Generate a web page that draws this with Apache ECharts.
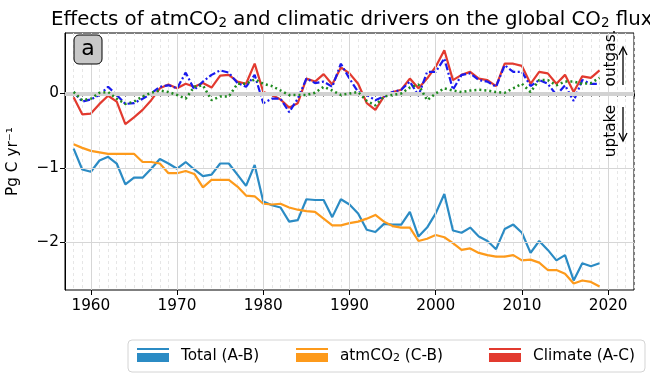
<!DOCTYPE html>
<html>
<head>
<meta charset="utf-8">
<script src="https://cdn.jsdelivr.net/npm/echarts@6/dist/echarts.min.js"></script>
<style>html,body{margin:0;padding:0;background:#fff}#c{width:650px;height:380px}</style>
</head>
<body>
<div id="c"></div>
<script>
const years = [1958,1959,1960,1961,1962,1963,1964,1965,1966,1967,1968,1969,1970,1971,1972,1973,1974,1975,1976,1977,1978,1979,1980,1981,1982,1983,1984,1985,1986,1987,1988,1989,1990,1991,1992,1993,1994,1995,1996,1997,1998,1999,2000,2001,2002,2003,2004,2005,2006,2007,2008,2009,2010,2011,2012,2013,2014,2015,2016,2017,2018,2019];
const totalAB = [-0.74,-1.02,-1.05,-0.90,-0.85,-0.94,-1.22,-1.13,-1.13,-1.01,-0.88,-0.94,-1.01,-0.92,-1.02,-1.11,-1.09,-0.94,-0.94,-1.09,-1.24,-0.96,-1.45,-1.50,-1.53,-1.72,-1.70,-1.42,-1.43,-1.43,-1.66,-1.42,-1.49,-1.61,-1.83,-1.86,-1.75,-1.76,-1.76,-1.59,-1.92,-1.80,-1.61,-1.35,-1.84,-1.87,-1.80,-1.92,-1.98,-2.09,-1.82,-1.76,-1.87,-2.14,-1.98,-2.10,-2.24,-2.17,-2.51,-2.28,-2.32,-2.28];
const atmCO2CB = [-0.68,-0.73,-0.77,-0.79,-0.81,-0.81,-0.81,-0.81,-0.92,-0.92,-0.94,-1.07,-1.07,-1.04,-1.08,-1.26,-1.16,-1.16,-1.16,-1.25,-1.37,-1.38,-1.48,-1.49,-1.48,-1.53,-1.56,-1.58,-1.59,-1.68,-1.77,-1.77,-1.74,-1.72,-1.68,-1.63,-1.72,-1.78,-1.80,-1.80,-1.98,-1.95,-1.90,-1.93,-2.01,-2.10,-2.08,-2.14,-2.17,-2.19,-2.19,-2.17,-2.24,-2.23,-2.27,-2.37,-2.37,-2.42,-2.55,-2.51,-2.53,-2.59];
const climateAC = [-0.05,-0.28,-0.27,-0.14,-0.03,-0.11,-0.41,-0.32,-0.22,-0.09,0.07,0.12,0.07,0.13,0.09,0.14,0.08,0.24,0.25,0.16,0.13,0.40,0.02,-0.02,-0.08,-0.19,-0.13,0.20,0.16,0.26,0.12,0.35,0.27,0.13,-0.13,-0.22,-0.04,0.02,0.05,0.20,0.07,0.20,0.36,0.58,0.18,0.25,0.29,0.20,0.18,0.10,0.40,0.40,0.37,0.13,0.29,0.27,0.13,0.25,0.02,0.23,0.21,0.31];
const climateDashDot = [0.02,-0.11,-0.08,-0.02,0.09,-0.02,-0.14,-0.13,-0.07,0.00,0.09,0.11,0.07,0.28,0.05,0.16,0.25,0.31,0.28,0.14,0.09,0.25,-0.13,-0.07,-0.07,-0.25,-0.07,0.20,0.14,0.16,0.09,0.40,0.20,0.02,-0.02,-0.09,-0.04,0.02,0.05,0.16,-0.03,0.29,0.29,0.47,0.05,0.25,0.27,0.18,0.16,0.09,0.38,0.29,0.29,0.10,0.18,0.13,-0.02,0.11,-0.10,0.18,0.13,0.13];
const climateDotted = [0.02,-0.09,-0.07,0.01,0.02,-0.07,-0.14,-0.11,-0.04,0.01,0.04,0.02,-0.02,-0.07,0.09,0.11,-0.09,-0.04,-0.04,0.13,0.13,0.19,0.13,0.10,0.04,-0.02,-0.02,-0.02,0.01,0.09,0.04,-0.02,0.00,0.02,-0.10,-0.16,-0.04,-0.02,0.00,0.08,0.12,-0.09,0.00,0.07,0.04,0.02,0.04,0.05,0.04,0.02,0.01,0.07,0.13,0.02,0.18,0.18,0.11,0.16,0.16,0.13,0.14,0.21];
const xTickLabels = [1960,1970,1980,1990,2000,2010,2020];
const yTickLabels = [-2,-1,0];
const legendNames = ['Total (A-B)','atmCO2 (C-B)','Climate (A-C)'];

const FONT = 'DejaVu Sans';
const pairs = arr => years.map((y,i)=>[y,arr[i]]);
const chart = echarts.init(document.getElementById('c'), null, {renderer:'canvas'});

const option = {
  animation:false,
  backgroundColor:'#fff',
  textStyle:{fontFamily:FONT},
  title:{
    text:'{n|Effects of atmCO}{s|2}{n| and climatic drivers on the global CO}{s|2}{n| flux}',
    left:46, top:1,
    textStyle:{fontWeight:'normal',rich:{
      n:{fontSize:19.8,fontFamily:FONT,fontWeight:'normal',color:'#000',verticalAlign:'bottom',lineHeight:24},
      s:{fontSize:13.5,fontFamily:FONT,fontWeight:'normal',color:'#000',verticalAlign:'bottom',lineHeight:18}
    }}
  },
  grid:{left:65,right:16,top:33,bottom:90,show:true,borderColor:'#000',borderWidth:1,backgroundColor:'#fff',outerBoundsMode:'none',containLabel:false},
  legend:{
    data:legendNames,
    left:128, top:340, width:540,
    padding:[8,10,8,9],
    itemGap:32,
    itemWidth:32, itemHeight:14,
    icon:'path://M0,0H32V2H0Z M0,5H32V14H0Z',
    borderColor:'#d4d4d4', borderWidth:1, borderRadius:4, backgroundColor:'#fff',
    formatter: n => n==='atmCO2 (C-B)' ? '{n|atmCO}{s|2}{a| (C-B)}' : (n==='Total (A-B)' ? '{t|'+n+'}' : '{c|'+n+'}'),
    textStyle:{padding:[0,0,0,7],rich:{
      t:{fontSize:15.3,fontFamily:FONT,color:'#000',verticalAlign:'bottom',lineHeight:18,width:83},
      n:{fontSize:15.3,fontFamily:FONT,color:'#000',verticalAlign:'bottom',lineHeight:18},
      a:{fontSize:15.3,fontFamily:FONT,color:'#000',verticalAlign:'bottom',lineHeight:18,width:57},
      c:{fontSize:15.3,fontFamily:FONT,color:'#000',verticalAlign:'bottom',lineHeight:18,width:102},
      s:{fontSize:11,fontFamily:FONT,color:'#000',verticalAlign:'bottom',lineHeight:14}
    }}
  },
  xAxis:[{
    type:'value', min:1957, max:2023, interval:1,
    axisLine:{show:true,lineStyle:{color:'#000',width:1}},
    axisTick:{show:true,length:3,lineStyle:{color:'#000',width:1}},
    axisLabel:{show:true,margin:9,fontSize:15.3,fontFamily:FONT,color:'#000',
      formatter:v=> xTickLabels.indexOf(v)>=0 ? String(v) : ''},
    splitLine:{show:true,lineStyle:{color:'#e6e6e6',width:1,type:[3,3]}}
  },{
    type:'value', min:1957, max:2023, position:'bottom', gridIndex:0,
    axisLine:{show:false},
    axisTick:{show:true,length:5,customValues:xTickLabels,lineStyle:{color:'#000',width:1}},
    axisLabel:{show:false},
    splitLine:{show:false}
  }],
  yAxis:{
    type:'value', min:-2.638, max:0.812,
    name:'Pg C yr\u207B\u00B9', nameLocation:'middle', nameGap:44, nameRotate:90,
    nameTextStyle:{fontSize:15.3,fontFamily:FONT,color:'#000'},
    axisLine:{show:true,lineStyle:{color:'#000',width:1}},
    axisTick:{show:true,length:5,customValues:yTickLabels,lineStyle:{color:'#000',width:1}},
    axisLabel:{show:true,margin:6,fontSize:15.3,fontFamily:FONT,color:'#000',customValues:yTickLabels,
      formatter:v=> v<0 ? '\u2212'+Math.abs(v) : String(v)},
    splitLine:{show:false}
  },
  series:[
    {type:'line', name:'grid', data:[], z:1, silent:true,
     markLine:{silent:true, symbol:'none', label:{show:false}, animation:false,
      data:[
        ...xTickLabels.map(v=>({xAxis:v,lineStyle:{color:'#d6d6d6',width:1,type:'solid'}})),
        {yAxis:-1,lineStyle:{color:'#d6d6d6',width:1,type:'solid'}},
        {yAxis:-2,lineStyle:{color:'#d6d6d6',width:1,type:'solid'}},
        {yAxis:0,lineStyle:{color:'#d2d2d2',width:4,type:'solid'}}
      ]}},
    {type:'line', name:'Total (A-B)', data:pairs(totalAB), showSymbol:false, z:3,
     lineStyle:{color:'#2b8bc4',width:2.2}, itemStyle:{color:'#2b8bc4'}},
    {type:'line', name:'atmCO2 (C-B)', data:pairs(atmCO2CB), showSymbol:false, z:3,
     lineStyle:{color:'#fd9a1b',width:2.2}, itemStyle:{color:'#fd9a1b'}},
    {type:'line', name:'Climate (A-C)', data:pairs(climateAC), showSymbol:false, z:3,
     lineStyle:{color:'#e23a2f',width:2.2}, itemStyle:{color:'#e23a2f'}},
    {type:'line', name:'dashdot', data:pairs(climateDashDot), showSymbol:false, z:4,
     lineStyle:{color:'#1a1aee',width:2.2,type:[7,2.5,2,2.5]}, itemStyle:{color:'#1a1aee'}},
    {type:'line', name:'dotted', data:pairs(climateDotted), showSymbol:false, z:5,
     lineStyle:{color:'#1f8a1f',width:2.5,type:[2,3]}, itemStyle:{color:'#1f8a1f'}}
  ],
  graphic:[
    {type:'rect', z:10, shape:{x:74,y:35,width:28,height:29,r:5}, style:{fill:'#c8c8c8',stroke:'#000',lineWidth:1}},
    {type:'text', z:11, x:88, y:49.5, style:{text:'a',fontSize:22,fontFamily:FONT,fill:'#000',align:'center',verticalAlign:'middle'}},
    {type:'text', z:11, x:611, y:58, rotation:Math.PI/2, style:{text:'outgas.',fontSize:15.3,fontFamily:FONT,fill:'#000',align:'center',verticalAlign:'middle'}},
    {type:'text', z:11, x:611, y:131, rotation:Math.PI/2, style:{text:'uptake',fontSize:15.3,fontFamily:FONT,fill:'#000',align:'center',verticalAlign:'middle'}},
    {type:'polyline', z:11, shape:{points:[[623,85],[623,48]]}, style:{stroke:'#000',lineWidth:1.3,fill:null}},
    {type:'polyline', z:11, shape:{points:[[619,55],[623,47],[627,55]]}, style:{stroke:'#000',lineWidth:1.3,fill:null}},
    {type:'polyline', z:11, shape:{points:[[623,107],[623,141]]}, style:{stroke:'#000',lineWidth:1.3,fill:null}},
    {type:'polyline', z:11, shape:{points:[[619,133],[623,141],[627,133]]}, style:{stroke:'#000',lineWidth:1.3,fill:null}}
  ]
};
chart.setOption(option);
</script>
</body>
</html>
